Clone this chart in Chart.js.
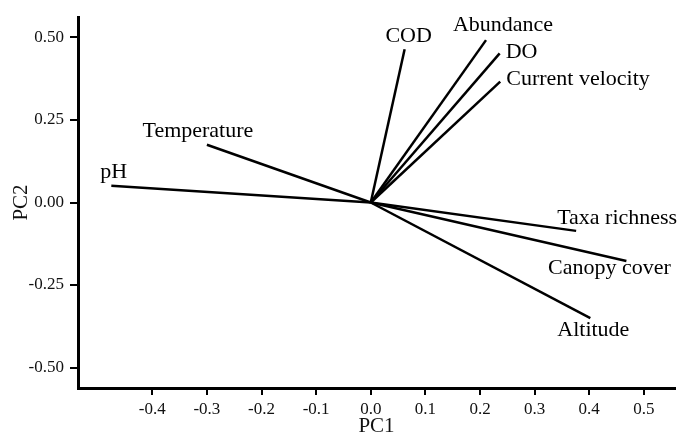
<!DOCTYPE html>
<html>
<head>
<meta charset="utf-8">
<script src="https://cdn.jsdelivr.net/npm/chart.js@4.4.1/dist/chart.umd.min.js"></script>
<style>
  html, body { margin: 0; padding: 0; background: #fff; }
</style>
</head>
<body>
<canvas id="biplot" width="678" height="437"></canvas>
<script>
// PCA loadings
const variables = ['pH', 'Temperature', 'COD', 'Abundance', 'DO', 'Current velocity', 'Taxa richness', 'Canopy cover', 'Altitude'];
const pc1 = [-0.475, -0.300, 0.062, 0.211, 0.236, 0.237, 0.376, 0.468, 0.402];
const pc2 = [0.051, 0.175, 0.464, 0.492, 0.452, 0.366, -0.086, -0.177, -0.350];

const xTicks = [-0.4, -0.3, -0.2, -0.1, 0.0, 0.1, 0.2, 0.3, 0.4, 0.5];
const yTicks = [-0.50, -0.25, 0.00, 0.25, 0.50];

const serif = '"Liberation Serif", "Times New Roman", serif';

// where each label sits relative to the arrow tip (pixels)
const labelPlace = {
  'pH':               { dx: -11, dy: -13, align: 'left' },
  'Temperature':      { dx: -9,  dy: -14, align: 'center' },
  'COD':              { dx: 4,   dy: -13, align: 'center' },
  'Abundance':        { dx: 17,  dy: -15, align: 'center' },
  'DO':               { dx: 6,   dy: -1,  align: 'left' },
  'Current velocity': { dx: 6,   dy: -2,  align: 'left' },
  'Taxa richness':    { dx: -19, dy: -13, align: 'left' },
  'Canopy cover':     { dx: -17, dy: 7,   align: 'center' },
  'Altitude':         { dx: 3,   dy: 12,  align: 'center' }
};

const datasets = variables.map((name, i) => ({
  label: name,
  data: [{ x: 0, y: 0 }, { x: pc1[i], y: pc2[i] }],
  showLine: true,
  borderColor: '#000',
  borderWidth: 2.5,
  pointRadius: 0,
  clip: false
}));

const vectorLabels = {
  id: 'vectorLabels',
  afterDatasetsDraw(chart) {
    const ctx = chart.ctx;
    ctx.save();
    ctx.font = '22px ' + serif;
    ctx.fillStyle = '#000';
    ctx.textBaseline = 'middle';
    chart.data.datasets.forEach((ds, i) => {
      const tip = chart.getDatasetMeta(i).data[1];
      const p = labelPlace[ds.label];
      ctx.textAlign = p.align;
      ctx.fillText(ds.label, tip.x + p.dx, tip.y + p.dy);
    });
    ctx.restore();
  }
};

new Chart(document.getElementById('biplot'), {
  type: 'scatter',
  data: { datasets },
  plugins: [vectorLabels],
  options: {
    responsive: false,
    animation: false,
    layout: { padding: { top: 17, right: 3, left: 0, bottom: 0 } },
    plugins: { legend: { display: false }, tooltip: { enabled: false } },
    scales: {
      x: {
        type: 'linear',
        min: -0.536,
        max: 0.557,
        afterBuildTicks: (scale) => { scale.ticks = xTicks.map(v => ({ value: v })); },
        afterFit: (scale) => { scale.height = 49; },
        grid: { drawOnChartArea: false, drawTicks: true, tickLength: 7, color: '#000', lineWidth: 2 },
        border: { display: true, color: '#000', width: 3 },
        ticks: {
          color: '#111',
          padding: 4,
          font: { family: serif, size: 17 },
          callback: (v) => Number(v).toFixed(1)
        },
        title: {
          display: true,
          text: 'PC1',
          color: '#111',
          font: { family: serif, size: 21, lineHeight: 1 },
          padding: { top: 0, bottom: 0 }
        }
      },
      y: {
        type: 'linear',
        min: -0.562,
        max: 0.562,
        afterBuildTicks: (scale) => { scale.ticks = yTicks.map(v => ({ value: v })); },
        afterFit: (scale) => { scale.width = 78; },
        grid: { drawOnChartArea: false, drawTicks: true, tickLength: 8, color: '#000', lineWidth: 2 },
        border: { display: true, color: '#000', width: 3 },
        ticks: {
          color: '#111',
          padding: 6,
          font: { family: serif, size: 17 },
          callback: (v) => Number(v).toFixed(2)
        },
        title: {
          display: true,
          text: 'PC2',
          color: '#111',
          font: { family: serif, size: 21, lineHeight: 1 },
          padding: { top: 11, bottom: 0 }
        }
      }
    }
  }
});
</script>
</body>
</html>
